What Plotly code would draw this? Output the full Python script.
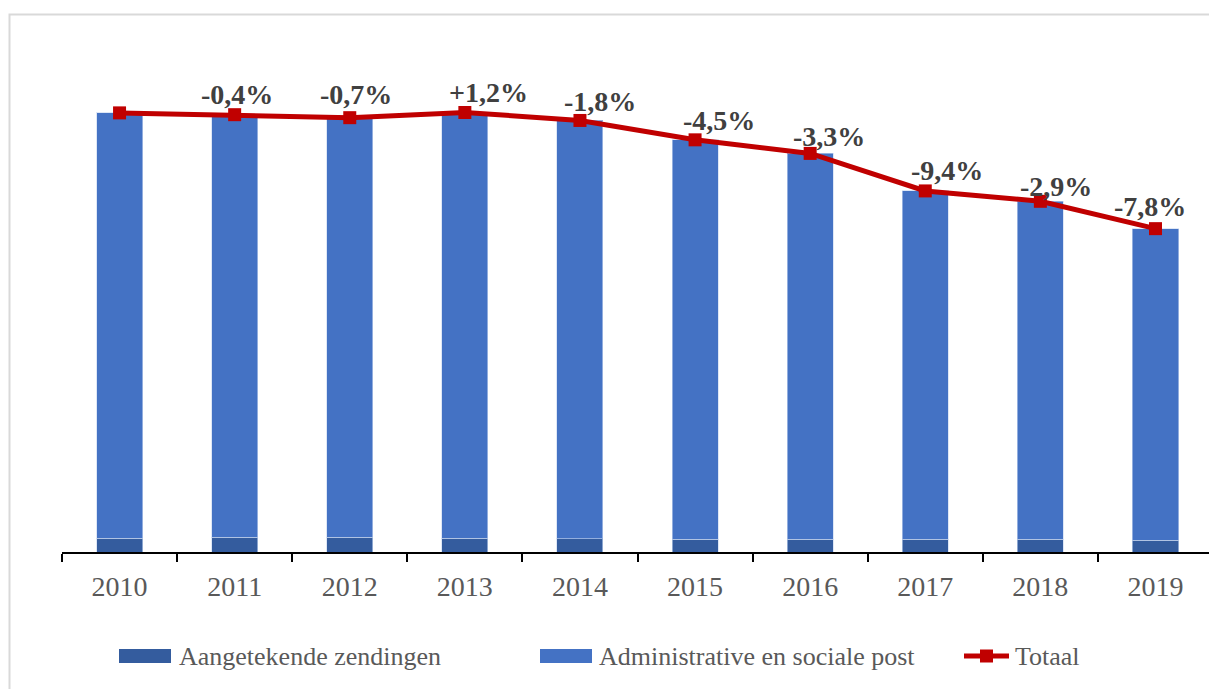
import plotly.graph_objects as go

# Data (millions of items)
years = ["2010", "2011", "2012", "2013", "2014", "2015", "2016", "2017", "2018", "2019"]
aangetekend = [7.0, 7.5, 7.4, 7.0, 6.6, 6.5, 6.4, 6.3, 6.3, 5.9]
totaal = [220.0, 219.1, 217.6, 220.2, 216.2, 206.5, 199.7, 180.9, 175.7, 162.0]
administratief = [round(t - a, 1) for t, a in zip(totaal, aangetekend)]
pct_labels = ["", "-0,4%", "-0,7%", "+1,2%", "-1,8%", "-4,5%", "-3,3%", "-9,4%", "-2,9%", "-7,8%"]

# Label nudges (pixels) relative to each marker
label_dx = [0, 2, 6, 24, 20, 24, 19, 22, 16, -5]
label_dy = [0, 20, 23, 20, 19, 19, 17, 20, 15, 22]

# Layout geometry
W, H = 1209, 689
ML, MR, MT, MB = 62, 0, 53, 137
PW, PH = W - ML - MR, H - MT - MB

DARK = "#345c9e"
LIGHT = "#4472c4"
RED = "#c00000"
FONT = "Liberation Serif"
GREY = "#595959"


def px(x):
    return (x - ML) / PW


def py(y):
    return (H - MB - y) / PH


fig = go.Figure()

fig.add_trace(go.Bar(
    x=years, y=aangetekend, name="Aangetekende zendingen",
    marker=dict(color=DARK, line=dict(color="rgba(200,215,240,0.6)", width=1)),
    width=0.4, showlegend=False,
))
fig.add_trace(go.Bar(
    x=years, y=administratief, name="Administrative en sociale post",
    marker=dict(color=LIGHT, line=dict(color="rgba(200,215,240,0.6)", width=1)),
    width=0.4, showlegend=False,
))
fig.add_trace(go.Scatter(
    x=years, y=totaal, name="Totaal", mode="lines+markers",
    line=dict(color=RED, width=5),
    marker=dict(symbol="square", size=13, color=RED),
    cliponaxis=False, showlegend=False,
))

annotations = []
# percentage-change labels above the Totaal markers (x given as category index)
for i, (val, lab, dx, dy) in enumerate(zip(totaal, pct_labels, label_dx, label_dy)):
    if not lab:
        continue
    annotations.append(dict(
        x=i, y=val, xref="x", yref="y", text="<b>" + lab + "</b>", showarrow=False,
        xanchor="center", yanchor="middle", xshift=dx, yshift=dy,
        font=dict(family=FONT, size=28, color="#404040"),
    ))

shapes = [
    # outer frame
    dict(type="rect", xref="paper", yref="paper",
         x0=px(9.5), x1=px(1400), y0=py(900), y1=py(14.5),
         line=dict(color="#d9d9d9", width=2), fillcolor="rgba(0,0,0,0)", layer="below"),
    # legend swatches
    dict(type="rect", xref="paper", yref="paper", x0=px(119), x1=px(171), y0=py(663), y1=py(649),
         fillcolor=DARK, line=dict(width=0)),
    dict(type="rect", xref="paper", yref="paper", x0=px(540), x1=px(592), y0=py(663), y1=py(649),
         fillcolor=LIGHT, line=dict(width=0)),
    dict(type="line", xref="paper", yref="paper", x0=px(964), x1=px(1009), y0=py(656), y1=py(656),
         line=dict(color=RED, width=5)),
    dict(type="rect", xref="paper", yref="paper", x0=px(980), x1=px(993), y0=py(662.5), y1=py(649.5),
         fillcolor=RED, line=dict(width=0)),
]

for xpos, label in [(177, "Aangetekende zendingen"), (597, "Administrative en sociale post"), (1013, "Totaal")]:
    annotations.append(dict(
        xref="paper", yref="paper", x=px(xpos), y=py(656), text=label,
        showarrow=False, xanchor="left", yanchor="middle",
        font=dict(family=FONT, size=26, color=GREY),
    ))

fig.update_layout(
    width=W, height=H,
    margin=dict(l=ML, r=MR, t=MT, b=MB),
    paper_bgcolor="white", plot_bgcolor="white",
    barmode="stack", bargap=0.6,
    showlegend=False,
    shapes=shapes, annotations=annotations,
    xaxis=dict(
        type="category", range=[-0.5, 9.465],
        showline=True, linecolor="black", linewidth=2,
        ticks="outside", ticklen=8, tickwidth=2, tickcolor="black",
        tickson="boundaries", showgrid=False, zeroline=False,
        ticklabelstandoff=8,
        tickfont=dict(family=FONT, size=28, color=GREY),
    ),
    yaxis=dict(range=[0, 250], visible=False, showgrid=False, zeroline=False),
)

fig.write_html("out.html")
